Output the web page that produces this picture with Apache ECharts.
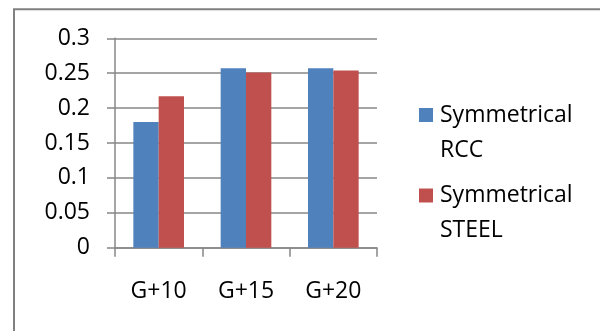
<!DOCTYPE html>
<html>
<head>
<meta charset="utf-8">
<script src="https://cdn.jsdelivr.net/npm/echarts@6/dist/echarts.min.js"></script>
<style>
  html, body { margin: 0; padding: 0; background: #fff; }
  #chart { width: 600px; height: 331px; }
</style>
</head>
<body>
<div id="chart"></div>
<script>
// Building heights
const categories = ['G+10', 'G+15', 'G+20'];
// Series names and values
const seriesNames = ['Symmetrical RCC', 'Symmetrical STEEL'];
const rccValues = [0.18, 0.257, 0.257];
const steelValues = [0.217, 0.251, 0.254];
// Value axis ticks
const yTicks = [0, 0.05, 0.1, 0.15, 0.2, 0.25, 0.3];

const FONT = '"Open Sans", sans-serif';
const GRID_COLOR = '#878787';

const chart = echarts.init(document.getElementById('chart'), null, { renderer: 'canvas' });

chart.setOption({
  animation: false,
  backgroundColor: '#ffffff',
  color: ['#4F81BD', '#C0504D'],
  textStyle: { fontFamily: FONT },
  graphic: [{
    type: 'rect',
    shape: { x: 14, y: 9.2, width: 700, height: 400 },
    style: { fill: 'none', stroke: '#808080', lineWidth: 2 },
    silent: true
  }],
  grid: { left: 115, right: 223, top: 38.3, bottom: 83.3, containLabel: false },
  legend: {
    orient: 'vertical',
    left: 419,
    top: 62.5,
    padding: 0,
    itemWidth: 14,
    itemHeight: 14,
    itemGap: -24.5,
    icon: 'rect',
    data: seriesNames,
    // leading blank line keeps the marker beside the first text line
    formatter: name => '\n' + name.replace(' ', '\n'),
    textStyle: {
      fontFamily: FONT,
      fontSize: 23,
      color: '#000',
      lineHeight: 35,
      padding: [0, 0, 0, 2]
    }
  },
  xAxis: {
    type: 'category',
    data: categories,
    axisLine: { lineStyle: { color: GRID_COLOR, width: 1.5 } },
    axisTick: { show: true, length: 9, inside: false, lineStyle: { color: GRID_COLOR, width: 1.5 } },
    axisLabel: { fontFamily: FONT, fontSize: 23, color: '#000', margin: 32 },
    splitLine: { show: false }
  },
  yAxis: {
    type: 'value',
    min: yTicks[0],
    max: yTicks[yTicks.length - 1],
    interval: 0.05,
    axisLine: { show: true, lineStyle: { color: GRID_COLOR, width: 1.5 } },
    axisTick: { show: true, length: 8, lineStyle: { color: GRID_COLOR, width: 1.5 } },
    axisLabel: { fontFamily: FONT, fontSize: 23, color: '#000', margin: 25,
      formatter: v => String(+v.toFixed(2)) },
    splitLine: { show: true, lineStyle: { color: GRID_COLOR, width: 1.5 } }
  },
  series: [
    { name: seriesNames[0], type: 'bar', data: rccValues, barGap: '0%', barCategoryGap: '42%' },
    { name: seriesNames[1], type: 'bar', data: steelValues, barGap: '0%', barCategoryGap: '42%' }
  ]
});
</script>
</body>
</html>
